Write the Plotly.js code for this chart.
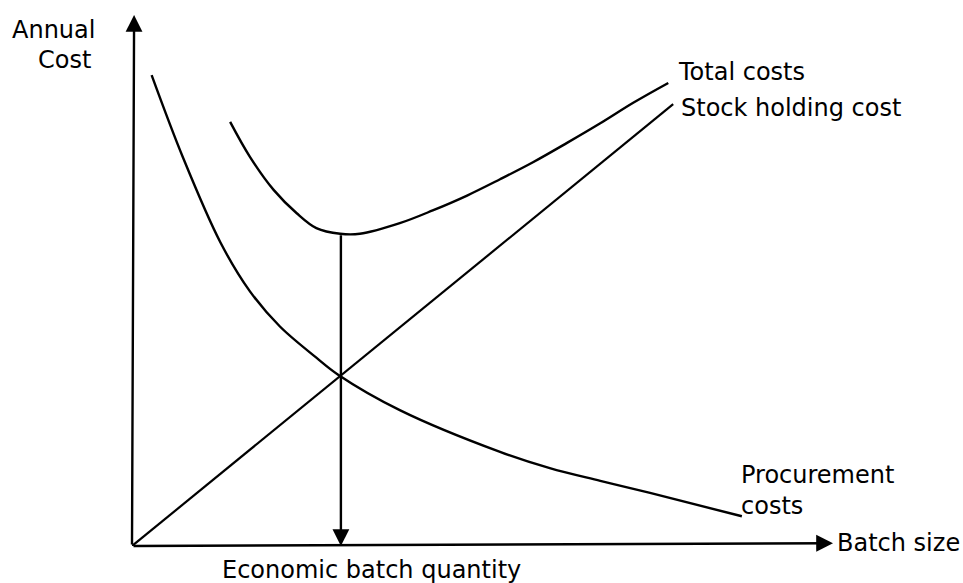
<!DOCTYPE html>
<html>
<head>
<meta charset="utf-8">
<script src="https://cdn.plot.ly/plotly-3.0.1.min.js"></script>
<style>
  html, body { margin: 0; padding: 0; background: #fff; }
  #chart { width: 963px; height: 583px; }
</style>
</head>
<body>
<div id="chart"></div>
<script>
// Значения (условные единицы)
const procurementX = [2.8, 7.3, 12.6, 16.8, 21.1, 26.3, 29.4, 38.2, 52.5, 59.6, 66.8, 73.9, 87.0];
const procurementY = [66.5, 54.8, 42.9, 36.0, 31.0, 26.6, 24.2, 19.2, 13.3, 11.0, 9.2, 7.5, 4.2];

const stockX = [0, 77.2];
const stockY = [0, 62.4];

const totalX = [14.0, 16.8, 20.2, 23.5, 26.3, 29.7, 32.5, 38.2, 42.9, 47.8, 52.5, 57.2, 62.0, 66.8, 71.5, 76.5];
const totalY = [59.9, 55.0, 50.3, 47.0, 44.9, 44.1, 44.1, 45.6, 47.4, 49.5, 51.8, 54.2, 56.9, 59.7, 62.6, 65.4];

// Экономичный размер партии и минимум общих затрат
const eoqX = 29.8;
const eoqCost = 44.1;

// Концы осей
const xMax = 100;
const yMax = 75;

const labelFont = { family: 'DejaVu Sans, sans-serif', size: 24, color: '#000' };
const curve = { color: '#000', width: 2.4, shape: 'spline', smoothing: 1 };

const traces = [
    { x: procurementX, y: procurementY, mode: 'lines', line: curve, name: 'Procurement costs' },
    { x: stockX, y: stockY, mode: 'lines', line: { color: '#000', width: 2.2 }, name: 'Stock holding cost' },
    { x: totalX, y: totalY, mode: 'lines', line: curve, name: 'Total costs' }
];

function arrow(x0, y0, x1, y1) {
    return {
        x: x1, y: y1, ax: x0, ay: y0,
        xref: 'x', yref: 'y', axref: 'x', ayref: 'y',
        text: '', showarrow: true,
        arrowhead: 2, arrowsize: 1.4, arrowwidth: 2.4, arrowcolor: '#000',
        standoff: 0, startstandoff: 0
    };
}

// подписи внутри области графика
function label(text, x, y, xanchor) {
    return {
        x: x, y: y, xref: 'x', yref: 'y',
        text: text, showarrow: false,
        xanchor: xanchor, yanchor: 'middle', align: 'left',
        font: labelFont
    };
}

// подписи за пределами осей (в долях области)
function paperLabel(text, x, y, xanchor) {
    return {
        x: x, y: y, xref: 'paper', yref: 'paper',
        text: text, showarrow: false,
        xanchor: xanchor, yanchor: 'middle',
        font: labelFont
    };
}

const annotations = [
    arrow(0, 0, 0.3, yMax),
    arrow(0, 0, xMax, 0.4),
    arrow(eoqX, eoqCost, eoqX, 0),
    paperLabel('Annual', -0.05, 0.972, 'right'),
    paperLabel('Cost', -0.055, 0.915, 'right'),
    label('Total costs', 77.6, 66.9, 'left'),
    label('Stock holding cost', 78.0, 61.9, 'left'),
    label('Procurement<br>costs', 86.6, 7.9, 'left'),
    paperLabel('Batch size', 1.003, 0.006, 'left'),
    paperLabel('Economic batch quantity', 0.342, -0.045, 'center')
];

const hiddenAxis = {
    showgrid: false, zeroline: false, showline: false,
    showticklabels: false, ticks: ''
};

const layout = {
    width: 963,
    height: 583,
    margin: { l: 132, r: 130, t: 15, b: 37 },
    paper_bgcolor: '#fff',
    plot_bgcolor: '#fff',
    showlegend: false,
    xaxis: Object.assign({ range: [0, xMax] }, hiddenAxis),
    yaxis: Object.assign({ range: [0, yMax] }, hiddenAxis),
    annotations: annotations
};

Plotly.newPlot('chart', traces, layout, { staticPlot: true, displayModeBar: false });
</script>
</body>
</html>
